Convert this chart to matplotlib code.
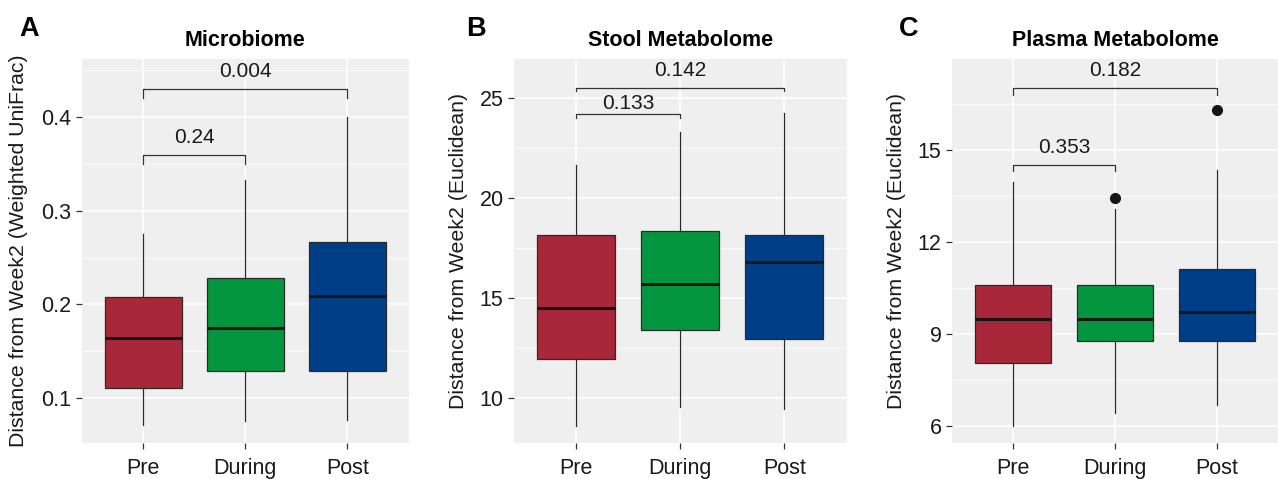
import matplotlib
matplotlib.use("Agg")
import matplotlib.pyplot as plt
from matplotlib.ticker import MultipleLocator

plt.rcParams["font.family"] = ["Liberation Sans", "DejaVu Sans"]

groups = ["Pre", "During", "Post"]
colors = ["#A8283A", "#03963F", "#003F87"]

# panel data: (q1, median, q3, whisker low, whisker high)
micro_stats = [
    (0.1107, 0.1644, 0.2081, 0.0708, 0.2747),
    (0.1291, 0.1744, 0.2284, 0.0750, 0.3323),
    (0.1291, 0.2085, 0.2665, 0.0761, 0.4006),
]
stool_stats = [
    (11.94, 14.49, 18.15, 8.62, 21.66),
    (13.37, 15.70, 18.34, 9.53, 23.30),
    (12.92, 16.77, 18.14, 9.43, 24.22),
]
plasma_stats = [
    (8.05, 9.48, 10.60, 6.00, 13.96),
    (8.76, 9.47, 10.60, 6.43, 13.07),
    (8.76, 9.72, 11.11, 6.67, 14.34),
]
micro_fliers = [[], [], []]
stool_fliers = [[], [], []]
plasma_fliers = [[], [13.44], [16.31]]

# brackets: (group a, group b, bracket y, tip y, text y, label)
micro_brackets = [(1, 2, 0.360, 0.350, 0.372, "0.24"),
                  (1, 3, 0.430, 0.420, 0.4427, "0.004")]
stool_brackets = [(1, 2, 24.19, 23.97, 24.42, "0.133"),
                  (1, 3, 25.48, 25.32, 26.08, "0.142")]
plasma_brackets = [(1, 2, 14.51, 14.32, 14.88, "0.353"),
                   (1, 3, 17.00, 16.80, 17.40, "0.182")]

panels = [
    dict(letter="A", title="Microbiome", stats=micro_stats, fliers=micro_fliers,
         brackets=micro_brackets, ylabel="Distance from Week2 (Weighted UniFrac)",
         ylim=(0.052, 0.462), major=0.1, minor=0.05, fmt="{:.1f}",
         rect=(82, 408.7), labx=19, letx=19),
    dict(letter="B", title="Stool Metabolome", stats=stool_stats, fliers=stool_fliers,
         brackets=stool_brackets, ylabel="Distance from Week2 (Euclidean)",
         ylim=(7.75, 26.93), major=5, minor=2.5, fmt="{:.0f}",
         rect=(514, 846.7), labx=458, letx=466),
    dict(letter="C", title="Plasma Metabolome", stats=plasma_stats, fliers=plasma_fliers,
         brackets=plasma_brackets, ylabel="Distance from Week2 (Euclidean)",
         ylim=(5.44, 17.96), major=3, minor=1.5, fmt="{:.0f}",
         rect=(952, 1278), labx=896.7, letx=899),
]

W, H = 1278, 479
fig = plt.figure(figsize=(W / 100, H / 100), dpi=100)

for p in panels:
    x0, x1 = p["rect"]
    ax = fig.add_axes([x0 / W, (H - 443) / H, (x1 - x0) / W, 384 / H])
    ax.set_facecolor("#EFEFEF")
    for s in ax.spines.values():
        s.set_visible(False)

    bxp_stats = []
    for (q1, med, q3, lo, hi), fl, name in zip(p["stats"], p["fliers"], groups):
        bxp_stats.append(dict(q1=q1, med=med, q3=q3, whislo=lo, whishi=hi,
                              fliers=fl, label=name))
    bp = ax.bxp(bxp_stats, positions=[1, 2, 3], widths=0.75, patch_artist=True,
                showcaps=False, zorder=3,
                boxprops=dict(edgecolor="#2A2A2A", linewidth=0.9),
                medianprops=dict(color="#151515", linewidth=2.2),
                whiskerprops=dict(color="#2A2A2A", linewidth=0.9),
                flierprops=dict(marker="o", markerfacecolor="#151515",
                                markeredgecolor="#151515", markersize=7))
    for patch, c in zip(bp["boxes"], colors):
        patch.set_facecolor(c)

    for a, b, yb, yt, ytxt, lab in p["brackets"]:
        ax.plot([a, a, b, b], [yt, yb, yb, yt], color="#333333", linewidth=0.9,
                zorder=4)
        ax.text((a + b) / 2, ytxt, lab, ha="center", va="baseline",
                fontsize=15, color="#1A1A1A", zorder=5)

    ax.set_xlim(0.4, 3.6)
    ax.set_ylim(*p["ylim"])
    ax.yaxis.set_major_locator(MultipleLocator(p["major"]))
    ax.yaxis.set_minor_locator(MultipleLocator(p["minor"]))
    ax.yaxis.set_major_formatter(plt.FuncFormatter(lambda v, _, f=p["fmt"]: f.format(v)))
    ax.set_xticks([1, 2, 3])
    ax.set_xticklabels(groups)
    ax.grid(True, which="major", color="white", linewidth=1.1, zorder=0)
    ax.grid(True, which="minor", axis="y", color="white", linewidth=0.55, zorder=0)
    ax.set_axisbelow(True)
    ax.tick_params(axis="both", which="major", length=4.5, width=0.9,
                   color="#333333", labelsize=15.5, labelcolor="#1A1A1A", pad=3)
    ax.tick_params(axis="x", which="major", pad=6)
    ax.tick_params(which="minor", length=0)

    ax.set_ylabel(p["ylabel"], fontsize=15.3, color="#1A1A1A", va="center")
    ax.yaxis.set_label_coords((p["labx"] - x0) / (x1 - x0), 0.5)
    ax.set_title(p["title"], fontsize=15.5, fontweight="bold", pad=9.5)

    fig.text(p["letx"] / W, (H - 36) / H, p["letter"], fontsize=19.5,
             fontweight="bold", ha="left", va="baseline")

fig.savefig("out.png", dpi=100)
